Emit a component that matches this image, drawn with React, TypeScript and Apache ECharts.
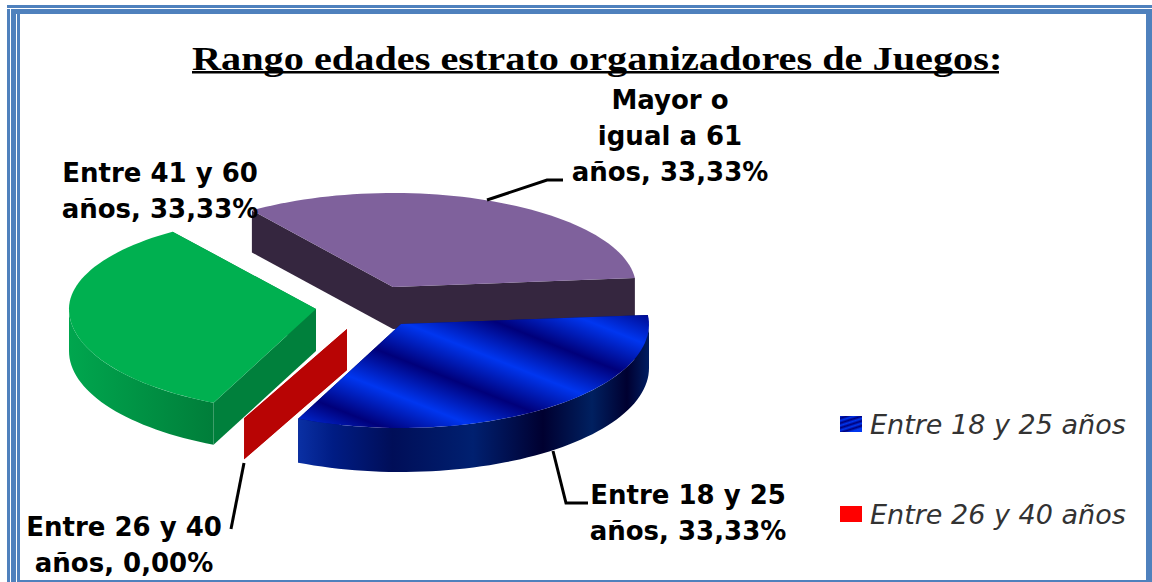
import React, { useEffect, useRef } from "react";
import * as echarts from "echarts";

const titleText = "Rango edades estrato organizadores de Juegos:";
const categories = ["Entre 18 y 25 años", "Entre 26 y 40 años", "Entre 41 y 60 años", "Mayor o igual a 61 años"];
const percentages = [33.33, 0, 33.33, 33.33];
const legendNames = ["Entre 18 y 25 años", "Entre 26 y 40 años"];

const FONT = "DejaVu Sans";
const FRAME = "#4F81BD";
const START_T = -5.5;

const brightBlue = "#0036F0";
const darkBlue = "#00007A";
const stripeStops = Array.from({ length: 9 }, (_, i) => ({ offset: i / 8, color: i % 2 === 0 ? brightBlue : darkBlue }));

const blueTop = { type: "linear", global: true, x: 529, y: 222, x2: 425, y2: 482, colorStops: stripeStops };
const blueWall = {
  type: "linear", global: true, x: 298, y: 0, x2: 648, y2: 0,
  colorStops: [
    { offset: 0, color: "#0A30A4" }, { offset: 0.1, color: "#001C84" }, { offset: 0.27, color: "#000E58" },
    { offset: 0.5, color: "#002070" }, { offset: 0.7, color: "#000030" }, { offset: 0.84, color: "#002060" },
    { offset: 0.94, color: "#000030" }, { offset: 1, color: "#001C60" },
  ],
};
const greenWall = {
  type: "linear", global: true, x: 70, y: 0, x2: 212, y2: 0,
  colorStops: [{ offset: 0, color: "#00A64E" }, { offset: 1, color: "#007E3A" }],
};
const legendBlue = {
  type: "linear", x: 0, y: 0, x2: 0.45, y2: 1,
  colorStops: stripeStops,
};

// Draw geometry and appearance of each slice, same order as categories.
const looks: any[] = [
  { cx: 401, cy: 324, rx: 248, ryU: 95, ryD: 104, depth: 44, top: blueTop, wall: blueWall, side: "#000E60", legend: legendBlue,
    label: { x: 688, y: 513, wrap: 13 }, leader: [[553, 451], [566, 503], [588, 503]] },
  { cx: 347, cy: 329, rx: 248, ryU: 95, ryD: 98, depth: 41, top: "#B80404", wall: "#B80404", side: "#B80404", legend: "#FF0000",
    label: { x: 124, y: 545, wrap: 13 }, leader: [[244, 463], [231, 529]] },
  { cx: 316, cy: 309, rx: 247, ryU: 95, ryD: 103, depth: 42, top: "#00B050", wall: greenWall, side: "#00803C", legend: "#00B050",
    label: { x: 160, y: 191, wrap: 13 } },
  { cx: 393, cy: 287, rx: 243, ryU: 94, ryD: 103, depth: 42, top: "#7F619C", wall: "#35263F", side: "#35263F", legend: "#7F619C",
    label: { x: 670, y: 136, wrap: 12 }, leader: [[487, 200], [547, 180], [563, 180]] },
];

// Series are stacked back to front.
const paintOrder = [3, 2, 1, 0];

const total = percentages.reduce((a, b) => a + b, 0);

function wrapWords(text: string, max: number) {
  const out: string[] = [];
  let line = "";
  for (const w of text.split(" ")) {
    const next = line ? line + " " + w : w;
    if (next.length > max && line) { out.push(line); line = w; } else line = next;
  }
  if (line) out.push(line);
  return out.join("\n");
}

function point(l: any, tDeg: number, drop = 0) {
  const t = (tDeg * Math.PI) / 180;
  const s = Math.sin(t);
  return [l.cx + l.rx * Math.cos(t), l.cy + (s < 0 ? l.ryU : l.ryD) * s + drop];
}

function arc(l: any, a: number, b: number, drop = 0) {
  const n = Math.max(1, Math.ceil(Math.abs(b - a) / 2));
  return Array.from({ length: n + 1 }, (_, i) => point(l, a + ((b - a) * i) / n, drop));
}

function sliceAngles(idx: number) {
  const before = percentages.slice(0, idx).reduce((a, b) => a + b, 0);
  const a = START_T + (before / total) * 360;
  return [a, a + (percentages[idx] / total) * 360];
}

function renderSlice(idx: number) {
  return () => {
    const l = looks[idx];
    const [a, b] = sliceAngles(idx);
    const apex = [l.cx, l.cy];
    const apexLow = [l.cx, l.cy + l.depth];
    const children: any[] = [];
    const radial = (t: number) => {
      const p = point(l, t);
      const q = point(l, t, l.depth);
      children.push({ type: "polygon", shape: { points: [apex, p, q, apexLow] }, style: { fill: l.side } });
    };
    radial(a);
    radial(b);
    const from = Math.max(a, 0);
    const to = Math.min(b, 180);
    if (to > from) {
      children.push({
        type: "polygon",
        shape: { points: [...arc(l, from, to), ...arc(l, to, from, l.depth)] },
        style: { fill: l.wall },
      });
    }
    if (b > a) {
      children.push({ type: "polygon", shape: { points: [apex, ...arc(l, a, b)] }, style: { fill: l.top } });
    }
    if (l.leader) {
      children.push({
        type: "polyline",
        shape: { points: l.leader },
        style: { stroke: "#000", lineWidth: 3, fill: "none" },
      });
    }
    const pct = percentages[idx].toFixed(2).replace(".", ",");
    children.push({
      type: "text",
      x: l.label.x,
      y: l.label.y,
      style: {
        text: wrapWords(`${categories[idx]}, ${pct}%`, l.label.wrap),
        fontFamily: FONT,
        fontWeight: "bold",
        fontSize: 26,
        lineHeight: 36,
        fill: "#000",
        align: "center",
        verticalAlign: "middle",
      },
    });
    return { type: "group", children };
  };
}

export default function App() {
  const ref = useRef<HTMLDivElement>(null);
  useEffect(() => {
    const chart = echarts.init(ref.current!, undefined, { renderer: "svg" });
    chart.setOption({
      animation: false,
      backgroundColor: "#fff",
      legend: {
        data: legendNames,
        orient: "vertical",
        left: 835,
        top: 404,
        itemWidth: 22,
        itemHeight: 16,
        itemGap: 60,
        icon: "rect",
        selectedMode: false,
        textStyle: { fontFamily: FONT, fontStyle: "italic", fontSize: 27, lineHeight: 30, color: "#333", padding: [0, 0, 0, 3] },
      },
      series: paintOrder.map((idx) => ({
        type: "custom",
        name: categories[idx],
        coordinateSystem: "none",
        silent: true,
        itemStyle: { color: looks[idx].legend },
        data: [[percentages[idx]]],
        renderItem: renderSlice(idx),
      })),
      graphic: [
        { type: "rect", shape: { x: 7, y: 5, width: 1145, height: 3 }, style: { fill: FRAME } },
        { type: "rect", shape: { x: 11, y: 9, width: 1141, height: 5 }, style: { fill: FRAME } },
        { type: "rect", shape: { x: 7, y: 9, width: 3, height: 573 }, style: { fill: FRAME } },
        { type: "rect", shape: { x: 11, y: 9, width: 5, height: 573 }, style: { fill: FRAME } },
        { type: "rect", shape: { x: 17, y: 14, width: 3, height: 568 }, style: { fill: FRAME } },
        { type: "rect", shape: { x: 1146, y: 14, width: 6, height: 568 }, style: { fill: FRAME } },
        { type: "rect", shape: { x: 17, y: 580, width: 1135, height: 2 }, style: { fill: FRAME } },
        {
          type: "text",
          x: 192,
          y: 76,
          scaleX: 1.185,
          style: {
            text: titleText,
            fontFamily: "Liberation Serif",
            fontWeight: "bold",
            fontSize: 34,
            fill: "#000",
            align: "left",
            verticalAlign: "bottom",
          },
        },
        { type: "rect", shape: { x: 192, y: 71, width: 807, height: 2.5 }, style: { fill: "#000" } },
      ],
    });
    return () => chart.dispose();
  }, []);
  return <div ref={ref} style={{ position: "absolute", left: 0, top: 0, width: 1152, height: 582 }} />;
}
